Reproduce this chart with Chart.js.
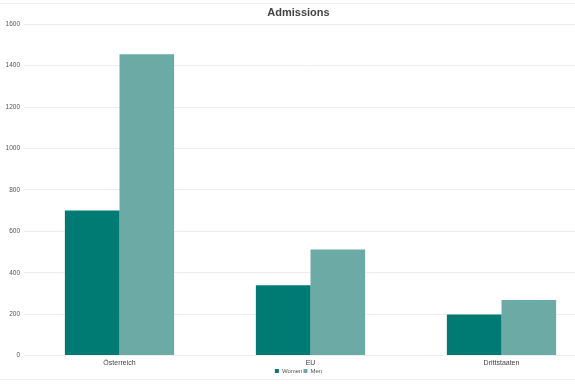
<!DOCTYPE html>
<html>
<head>
<meta charset="utf-8">
<script src="https://cdn.jsdelivr.net/npm/chart.js@4"></script>
<style>
  html, body { margin: 0; padding: 0; background: #fff; overflow: hidden; }
  #wrap { position: relative; width: 575px; height: 384px; overflow: hidden; }
  #box { position: absolute; left: 0; top: 0; width: 602px; height: 384px; }
  .rule { position: absolute; left: 0; width: 575px; height: 1px; background: #f0f0f0; }
</style>
</head>
<body>
<div id="wrap">
  <div class="rule" style="top:3px"></div>
  <div class="rule" style="top:379px"></div>
  <div id="box"><canvas id="myChart"></canvas></div>
</div>
<script>
var categories = ['Österreich', 'EU', 'Drittstaaten'];
var women = [700, 340, 198];
var men = [1455, 512, 268];
var yTicks = [0, 200, 400, 600, 800, 1000, 1200, 1400, 1600];

var ctx = document.getElementById('myChart').getContext('2d');
var chart = new Chart(ctx, {
    type: 'bar',
    data: {
        labels: categories,
        datasets: [{
            label: 'Women',
            backgroundColor: 'rgb(0, 123, 116)',
            data: women
        }, {
            label: 'Men',
            backgroundColor: 'rgb(108, 170, 165)',
            data: men
        }]
    },
    options: {
        responsive: true,
        maintainAspectRatio: false,
        animation: false,
        categoryPercentage: 0.572,
        barPercentage: 1,
        layout: { padding: { left: 0, right: 5, top: 0, bottom: 0 } },
        plugins: {
            title: {
                display: true,
                text: 'Admissions',
                color: '#444',
                font: { family: 'Liberation Sans', size: 11, weight: 'bold' },
                padding: { top: 6, bottom: 5 }
            },
            legend: {
                position: 'bottom',
                labels: {
                    color: '#555',
                    font: { family: 'Liberation Sans', size: 6 },
                    boxWidth: 4,
                    boxHeight: 4,
                    padding: 1
                }
            },
            tooltip: { enabled: false }
        },
        scales: {
            x: {
                afterFit: function (s) { s.height = s.height - 3; },
                grid: { display: false, drawTicks: false },
                border: { display: false },
                ticks: {
                    color: '#444',
                    font: { family: 'Liberation Sans', size: 7 },
                    padding: 3
                }
            },
            y: {
                min: 0,
                max: 1600,
                afterFit: function (s) { s.width = 24; },
                afterBuildTicks: function (s) { s.ticks = yTicks.map(function (v) { return { value: v }; }); },
                grid: { color: '#eeeeee', drawTicks: false },
                border: { display: false },
                ticks: {
                    color: '#555',
                    font: { family: 'Liberation Sans', size: 6.5 },
                    padding: 4,
                    callback: function (v) { return String(v); }
                }
            }
        }
    }
});
</script>
</body>
</html>
